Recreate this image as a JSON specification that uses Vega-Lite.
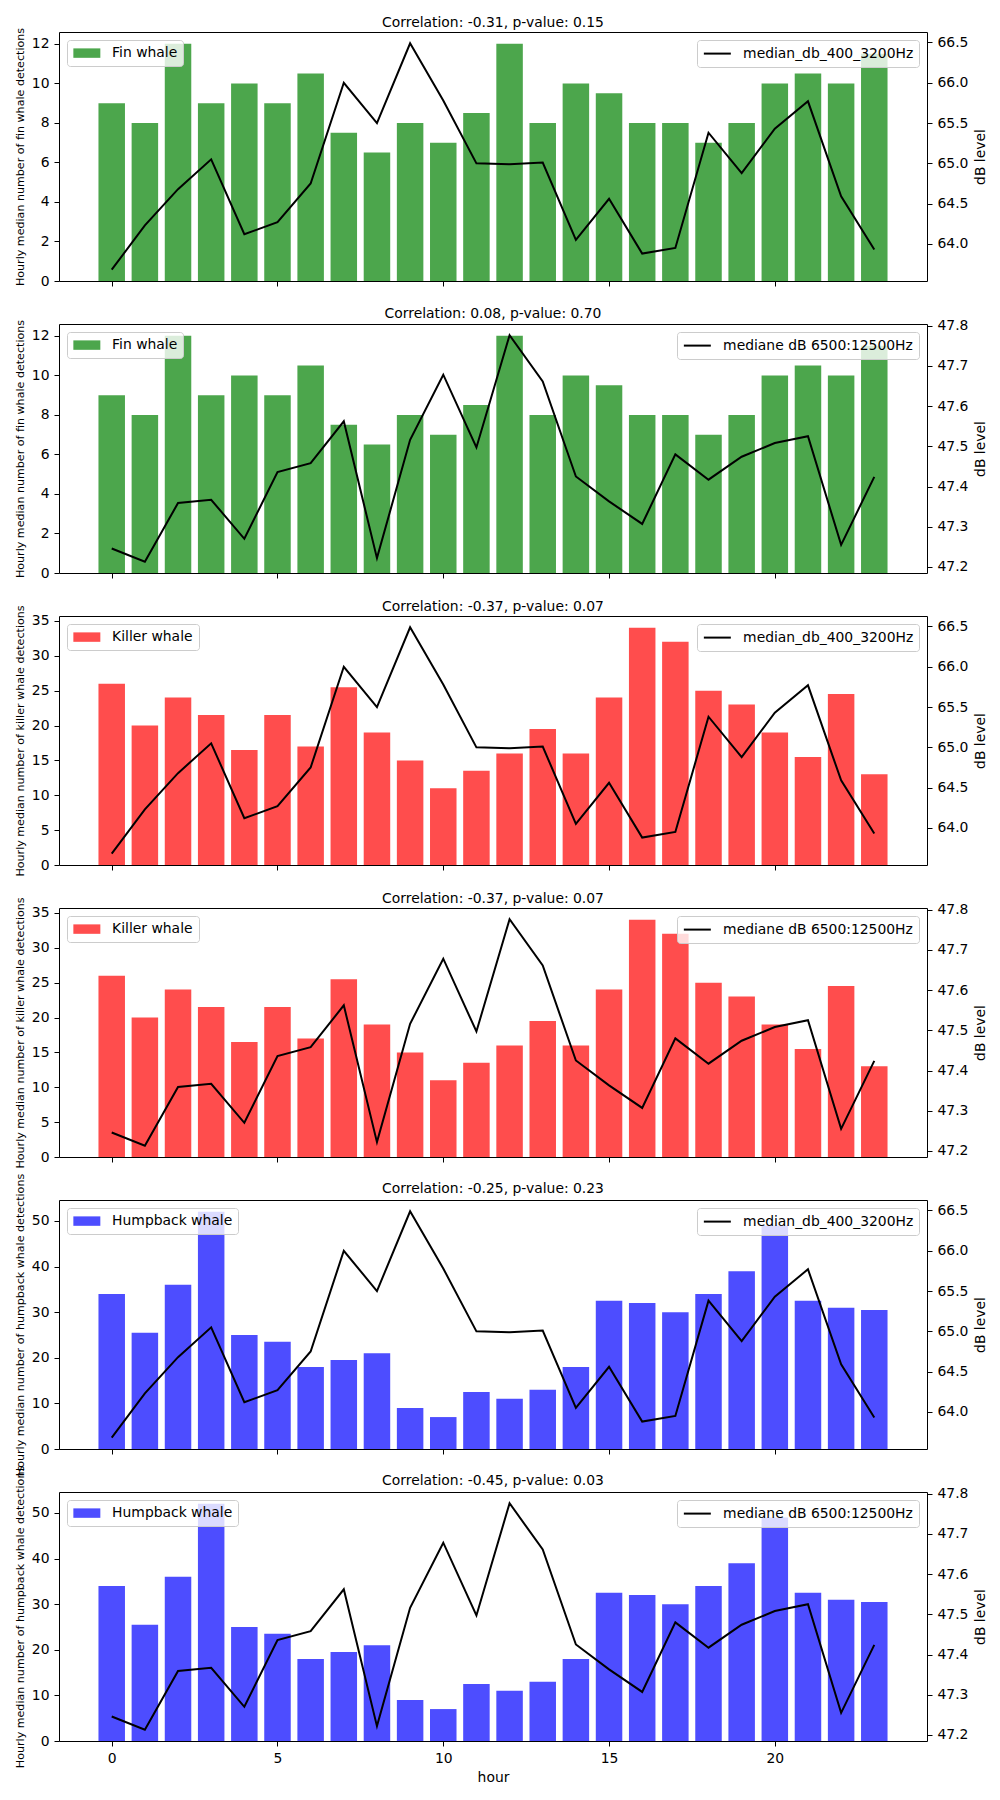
{
  "$schema": "https://vega.github.io/schema/vega-lite/v6.json",
  "padding": {"left": 14, "top": 15, "right": 5, "bottom": 5},
  "background": "white",
  "data": {
    "values": [
      {"hour": 0, "fin": 9, "killer": 26, "humpback": 34, "db400": 63.68, "db6500": 47.246},
      {"hour": 1, "fin": 8, "killer": 20, "humpback": 25.5, "db400": 64.23, "db6500": 47.213},
      {"hour": 2, "fin": 12, "killer": 24, "humpback": 36, "db400": 64.68, "db6500": 47.359},
      {"hour": 3, "fin": 9, "killer": 21.5, "humpback": 52, "db400": 65.05, "db6500": 47.367},
      {"hour": 4, "fin": 10, "killer": 16.5, "humpback": 25, "db400": 64.12, "db6500": 47.27},
      {"hour": 5, "fin": 9, "killer": 21.5, "humpback": 23.5, "db400": 64.27, "db6500": 47.436},
      {"hour": 6, "fin": 10.5, "killer": 17, "humpback": 18, "db400": 64.75, "db6500": 47.458},
      {"hour": 7, "fin": 7.5, "killer": 25.5, "humpback": 19.5, "db400": 66.0, "db6500": 47.562},
      {"hour": 8, "fin": 6.5, "killer": 19, "humpback": 21, "db400": 65.5, "db6500": 47.222},
      {"hour": 9, "fin": 8, "killer": 15, "humpback": 9, "db400": 66.49, "db6500": 47.516},
      {"hour": 10, "fin": 7, "killer": 11, "humpback": 7, "db400": 65.78, "db6500": 47.678},
      {"hour": 11, "fin": 8.5, "killer": 13.5, "humpback": 12.5, "db400": 65.0, "db6500": 47.497},
      {"hour": 12, "fin": 12, "killer": 16, "humpback": 11, "db400": 64.99, "db6500": 47.776},
      {"hour": 13, "fin": 8, "killer": 19.5, "humpback": 13, "db400": 65.01, "db6500": 47.661},
      {"hour": 14, "fin": 10, "killer": 16, "humpback": 18, "db400": 64.05, "db6500": 47.425},
      {"hour": 15, "fin": 9.5, "killer": 24, "humpback": 32.5, "db400": 64.56, "db6500": 47.363},
      {"hour": 16, "fin": 8, "killer": 34, "humpback": 32, "db400": 63.88, "db6500": 47.307},
      {"hour": 17, "fin": 8, "killer": 32, "humpback": 30, "db400": 63.95, "db6500": 47.48},
      {"hour": 18, "fin": 7, "killer": 25, "humpback": 34, "db400": 65.38, "db6500": 47.417},
      {"hour": 19, "fin": 8, "killer": 23, "humpback": 39, "db400": 64.88, "db6500": 47.474},
      {"hour": 20, "fin": 10, "killer": 19, "humpback": 49, "db400": 65.43, "db6500": 47.508},
      {"hour": 21, "fin": 10.5, "killer": 15.5, "humpback": 32.5, "db400": 65.77, "db6500": 47.525},
      {"hour": 22, "fin": 10, "killer": 24.5, "humpback": 31, "db400": 64.59, "db6500": 47.255},
      {"hour": 23, "fin": 11.5, "killer": 13, "humpback": 30.5, "db400": 63.93, "db6500": 47.424}
    ]
  },
  "bounds": "flush",
  "spacing": 43,
  "vconcat": [
    {
      "title": {"text": "Correlation: -0.31, p-value: 0.15", "dy": 10},
      "width": 868,
      "height": 249,
      "layer": [
        {
          "mark": {"type": "bar", "size": 26.5, "orient": "vertical"},
          "encoding": {
            "x": {"field": "hour", "type": "quantitative", "scale": {"domain": [-1.59, 24.59], "nice": false, "zero": false}, "axis": {"values": [0, 5, 10, 15, 20], "labels": false, "title": null}},
            "y": {"field": "fin", "type": "quantitative", "scale": {"domain": [0, 12.6], "nice": false}, "axis": {"values": [0, 2, 4, 6, 8, 10, 12], "title": "Hourly median number of fin whale detections", "titleFontSize": 11.1}},
            "color": {"datum": "Fin whale", "type": "nominal", "scale": {"range": ["#4ca64c"]}, "legend": {"orient": "top-left", "symbolType": "M-1,-0.7H3V0.7H-1Z"}}
          }
        },
        {
          "mark": {"type": "line", "strokeWidth": 2},
          "encoding": {
            "x": {"field": "hour", "type": "quantitative"},
            "y": {"field": "db400", "type": "quantitative", "scale": {"domain": [63.54, 66.63], "nice": false, "zero": false}, "axis": {"orient": "right", "values": [64, 64.5, 65, 65.5, 66, 66.5], "format": ".1f", "title": "dB level", "titleAngle": 270, "titleBaseline": "top"}},
            "stroke": {"datum": "median_db_400_3200Hz", "type": "nominal", "scale": {"range": ["black"]}, "legend": {"orient": "top-right", "symbolType": "M-1,0H3", "symbolStrokeWidth": 2}}
          }
        }
      ],
      "resolve": {"scale": {"y": "independent"}}
    },
    {
      "title": {"text": "Correlation: 0.08, p-value: 0.70", "dy": 10},
      "width": 868,
      "height": 249,
      "layer": [
        {
          "mark": {"type": "bar", "size": 26.5, "orient": "vertical"},
          "encoding": {
            "x": {"field": "hour", "type": "quantitative", "scale": {"domain": [-1.59, 24.59], "nice": false, "zero": false}, "axis": {"values": [0, 5, 10, 15, 20], "labels": false, "title": null}},
            "y": {"field": "fin", "type": "quantitative", "scale": {"domain": [0, 12.6], "nice": false}, "axis": {"values": [0, 2, 4, 6, 8, 10, 12], "title": "Hourly median number of fin whale detections", "titleFontSize": 11.1}},
            "color": {"datum": "Fin whale", "type": "nominal", "scale": {"range": ["#4ca64c"]}, "legend": {"orient": "top-left", "symbolType": "M-1,-0.7H3V0.7H-1Z"}}
          }
        },
        {
          "mark": {"type": "line", "strokeWidth": 2},
          "encoding": {
            "x": {"field": "hour", "type": "quantitative"},
            "y": {"field": "db6500", "type": "quantitative", "scale": {"domain": [47.185, 47.804], "nice": false, "zero": false}, "axis": {"orient": "right", "values": [47.2, 47.3, 47.4, 47.5, 47.6, 47.7, 47.8], "format": ".1f", "title": "dB level", "titleAngle": 270, "titleBaseline": "top"}},
            "stroke": {"datum": "mediane dB 6500:12500Hz", "type": "nominal", "scale": {"range": ["black"]}, "legend": {"orient": "top-right", "symbolType": "M-1,0H3", "symbolStrokeWidth": 2}}
          }
        }
      ],
      "resolve": {"scale": {"y": "independent"}}
    },
    {
      "title": {"text": "Correlation: -0.37, p-value: 0.07", "dy": 17},
      "width": 868,
      "height": 249,
      "layer": [
        {
          "mark": {"type": "bar", "size": 26.5, "orient": "vertical"},
          "encoding": {
            "x": {"field": "hour", "type": "quantitative", "scale": {"domain": [-1.59, 24.59], "nice": false, "zero": false}, "axis": {"values": [0, 5, 10, 15, 20], "labels": false, "title": null}},
            "y": {"field": "killer", "type": "quantitative", "scale": {"domain": [0, 35.7], "nice": false}, "axis": {"values": [0, 5, 10, 15, 20, 25, 30, 35], "title": "Hourly median number of killer whale detections", "titleFontSize": 11.1}},
            "color": {"datum": "Killer whale", "type": "nominal", "scale": {"range": ["#ff4d4d"]}, "legend": {"orient": "top-left", "symbolType": "M-1,-0.7H3V0.7H-1Z"}}
          }
        },
        {
          "mark": {"type": "line", "strokeWidth": 2},
          "encoding": {
            "x": {"field": "hour", "type": "quantitative"},
            "y": {"field": "db400", "type": "quantitative", "scale": {"domain": [63.54, 66.63], "nice": false, "zero": false}, "axis": {"orient": "right", "values": [64, 64.5, 65, 65.5, 66, 66.5], "format": ".1f", "title": "dB level", "titleAngle": 270, "titleBaseline": "top"}},
            "stroke": {"datum": "median_db_400_3200Hz", "type": "nominal", "scale": {"range": ["black"]}, "legend": {"orient": "top-right", "symbolType": "M-1,0H3", "symbolStrokeWidth": 2}}
          }
        }
      ],
      "resolve": {"scale": {"y": "independent"}}
    },
    {
      "title": {"text": "Correlation: -0.37, p-value: 0.07", "dy": 17},
      "width": 868,
      "height": 249,
      "layer": [
        {
          "mark": {"type": "bar", "size": 26.5, "orient": "vertical"},
          "encoding": {
            "x": {"field": "hour", "type": "quantitative", "scale": {"domain": [-1.59, 24.59], "nice": false, "zero": false}, "axis": {"values": [0, 5, 10, 15, 20], "labels": false, "title": null}},
            "y": {"field": "killer", "type": "quantitative", "scale": {"domain": [0, 35.7], "nice": false}, "axis": {"values": [0, 5, 10, 15, 20, 25, 30, 35], "title": "Hourly median number of killer whale detections", "titleFontSize": 11.1}},
            "color": {"datum": "Killer whale", "type": "nominal", "scale": {"range": ["#ff4d4d"]}, "legend": {"orient": "top-left", "symbolType": "M-1,-0.7H3V0.7H-1Z"}}
          }
        },
        {
          "mark": {"type": "line", "strokeWidth": 2},
          "encoding": {
            "x": {"field": "hour", "type": "quantitative"},
            "y": {"field": "db6500", "type": "quantitative", "scale": {"domain": [47.185, 47.804], "nice": false, "zero": false}, "axis": {"orient": "right", "values": [47.2, 47.3, 47.4, 47.5, 47.6, 47.7, 47.8], "format": ".1f", "title": "dB level", "titleAngle": 270, "titleBaseline": "top"}},
            "stroke": {"datum": "mediane dB 6500:12500Hz", "type": "nominal", "scale": {"range": ["black"]}, "legend": {"orient": "top-right", "symbolType": "M-1,0H3", "symbolStrokeWidth": 2}}
          }
        }
      ],
      "resolve": {"scale": {"y": "independent"}}
    },
    {
      "title": {"text": "Correlation: -0.25, p-value: 0.23", "dy": 31},
      "width": 868,
      "height": 249,
      "layer": [
        {
          "mark": {"type": "bar", "size": 26.5, "orient": "vertical"},
          "encoding": {
            "x": {"field": "hour", "type": "quantitative", "scale": {"domain": [-1.59, 24.59], "nice": false, "zero": false}, "axis": {"values": [0, 5, 10, 15, 20], "labels": false, "title": null}},
            "y": {"field": "humpback", "type": "quantitative", "scale": {"domain": [0, 54.6], "nice": false}, "axis": {"values": [0, 10, 20, 30, 40, 50], "title": "Hourly median number of humpback whale detections", "titleFontSize": 11.1}},
            "color": {"datum": "Humpback whale", "type": "nominal", "scale": {"range": ["#4d4dff"]}, "legend": {"orient": "top-left", "symbolType": "M-1,-0.7H3V0.7H-1Z"}}
          }
        },
        {
          "mark": {"type": "line", "strokeWidth": 2},
          "encoding": {
            "x": {"field": "hour", "type": "quantitative"},
            "y": {"field": "db400", "type": "quantitative", "scale": {"domain": [63.54, 66.63], "nice": false, "zero": false}, "axis": {"orient": "right", "values": [64, 64.5, 65, 65.5, 66, 66.5], "format": ".1f", "title": "dB level", "titleAngle": 270, "titleBaseline": "top"}},
            "stroke": {"datum": "median_db_400_3200Hz", "type": "nominal", "scale": {"range": ["black"]}, "legend": {"orient": "top-right", "symbolType": "M-1,0H3", "symbolStrokeWidth": 2}}
          }
        }
      ],
      "resolve": {"scale": {"y": "independent"}}
    },
    {
      "title": {"text": "Correlation: -0.45, p-value: 0.03", "dy": 31},
      "width": 868,
      "height": 249,
      "layer": [
        {
          "mark": {"type": "bar", "size": 26.5, "orient": "vertical"},
          "encoding": {
            "x": {"field": "hour", "type": "quantitative", "scale": {"domain": [-1.59, 24.59], "nice": false, "zero": false}, "axis": {"values": [0, 5, 10, 15, 20], "title": "hour"}},
            "y": {"field": "humpback", "type": "quantitative", "scale": {"domain": [0, 54.6], "nice": false}, "axis": {"values": [0, 10, 20, 30, 40, 50], "title": "Hourly median number of humpback whale detections", "titleFontSize": 11.1}},
            "color": {"datum": "Humpback whale", "type": "nominal", "scale": {"range": ["#4d4dff"]}, "legend": {"orient": "top-left", "symbolType": "M-1,-0.7H3V0.7H-1Z"}}
          }
        },
        {
          "mark": {"type": "line", "strokeWidth": 2},
          "encoding": {
            "x": {"field": "hour", "type": "quantitative"},
            "y": {"field": "db6500", "type": "quantitative", "scale": {"domain": [47.185, 47.804], "nice": false, "zero": false}, "axis": {"orient": "right", "values": [47.2, 47.3, 47.4, 47.5, 47.6, 47.7, 47.8], "format": ".1f", "title": "dB level", "titleAngle": 270, "titleBaseline": "top"}},
            "stroke": {"datum": "mediane dB 6500:12500Hz", "type": "nominal", "scale": {"range": ["black"]}, "legend": {"orient": "top-right", "symbolType": "M-1,0H3", "symbolStrokeWidth": 2}}
          }
        }
      ],
      "resolve": {"scale": {"y": "independent"}}
    }
  ],
  "resolve": {
    "scale": {"color": "independent", "stroke": "independent", "x": "independent", "y": "independent"},
    "legend": {"color": "independent", "stroke": "independent"}
  },
  "config": {
    "font": "DejaVu Sans",
    "view": {"stroke": "black", "strokeWidth": 1},
    "scale": {"continuousPadding": 0},
    "title": {"fontSize": 13.9, "fontWeight": "normal", "color": "black", "offset": 8, "anchor": "middle"},
    "axis": {
      "grid": false,
      "domain": false,
      "ticks": true,
      "tickColor": "black",
      "tickSize": 5,
      "tickWidth": 1,
      "labelPadding": 5,
      "labelFontSize": 13.9,
      "labelColor": "black",
      "titleFontSize": 13.9,
      "titleFontWeight": "normal",
      "titleColor": "black",
      "titlePadding": 5.6
    },
    "legend": {
      "title": null,
      "offset": 7.7,
      "padding": 5.6,
      "fillColor": "rgba(255,255,255,0.8)",
      "strokeColor": "#cccccc",
      "cornerRadius": 3,
      "labelFontSize": 13.9,
      "labelColor": "black",
      "labelLimit": 0,
      "labelOffset": 24.5,
      "symbolSize": 182,
      "symbolOpacity": 1
    }
  }
}
